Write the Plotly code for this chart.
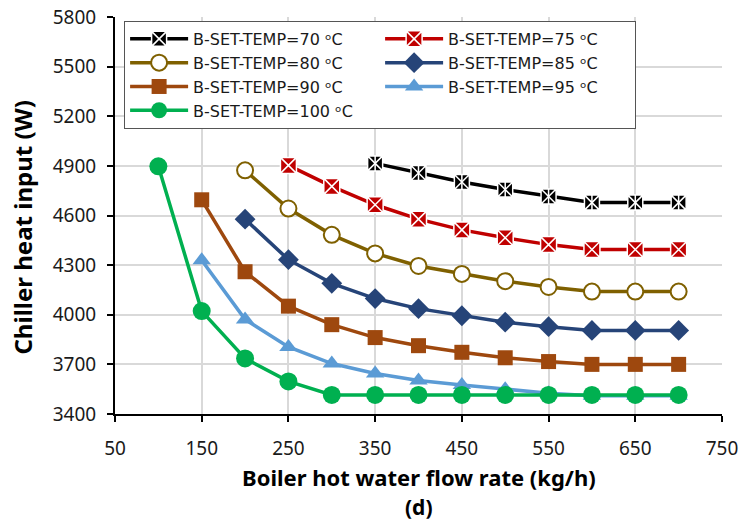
import plotly.graph_objects as go

x70 = [350, 400, 450, 500, 550, 600, 650, 700]
y70 = [4915, 4857, 4803, 4757, 4715, 4678, 4678, 4678]

x75 = [250, 300, 350, 400, 450, 500, 550, 600, 650, 700]
y75 = [4903, 4776, 4665, 4578, 4513, 4465, 4424, 4394, 4394, 4394]

x80 = [200, 250, 300, 350, 400, 450, 500, 550, 600, 650, 700]
y80 = [4873, 4642, 4483, 4371, 4295, 4247, 4203, 4168, 4140, 4140, 4140]

x85 = [200, 250, 300, 350, 400, 450, 500, 550, 600, 650, 700]
y85 = [4578, 4333, 4190, 4098, 4037, 3994, 3955, 3928, 3905, 3905, 3905]

x90 = [150, 200, 250, 300, 350, 400, 450, 500, 550, 600, 650, 700]
y90 = [4695, 4260, 4052, 3940, 3862, 3813, 3773, 3740, 3717, 3700, 3700, 3700]

x95 = [150, 200, 250, 300, 350, 400, 450, 500, 550, 600, 650, 700]
y95 = [4330, 3972, 3805, 3705, 3645, 3603, 3576, 3550, 3525, 3510, 3510, 3510]

x100 = [100, 150, 200, 250, 300, 350, 400, 450, 500, 550, 600, 650, 700]
y100 = [4897, 4022, 3736, 3597, 3515, 3515, 3515, 3515, 3515, 3515, 3515, 3515, 3515]

names = ["B-SET-TEMP=70 ᵒC", "B-SET-TEMP=75 ᵒC",
         "B-SET-TEMP=80 ᵒC", "B-SET-TEMP=85 ᵒC",
         "B-SET-TEMP=90 ᵒC", "B-SET-TEMP=95 ᵒC",
         "B-SET-TEMP=100 ᵒC"]

x_ticks = [50, 150, 250, 350, 450, 550, 650, 750]
y_ticks = [3400, 3700, 4000, 4300, 4600, 4900, 5200, 5500, 5800]

x_title = "Boiler hot water flow rate (kg/h)"
y_title = "Chiller heat input (W)"
panel_label = "(d)"

FONT = "Noto Sans"
LEGEND_FONT = "DejaVu Sans"

fig = go.Figure()

def add(xs, ys, name, color, symbol, size, mcolor, lcolor, lw):
    fig.add_trace(go.Scatter(
        x=xs, y=ys, name=name, mode="lines+markers",
        line=dict(color=color, width=3.5),
        marker=dict(symbol=symbol, size=size, color=mcolor,
                    line=dict(color=lcolor, width=lw)),
    ))

add(x70, y70, names[0], "#000000", "square-x", 15, "#000000", "#FFFFFF", 1.5)
add(x75, y75, names[1], "#C00000", "square-x", 16, "#C00000", "#FFFFFF", 1.5)
add(x80, y80, names[2], "#7F6000", "circle", 16, "#FFFFFF", "#7F6000", 2)
add(x85, y85, names[3], "#264478", "diamond", 16, "#264478", "#264478", 0)
add(x90, y90, names[4], "#9E480E", "square", 15, "#9E480E", "#9E480E", 0)
add(x95, y95, names[5], "#5B9BD5", "triangle-up", 16, "#5B9BD5", "#5B9BD5", 0)
add(x100, y100, names[6], "#00B050", "circle", 18, "#00B050", "#00B050", 0)

# vertical white stroke to complete the asterisk look of the 70 °C markers
fig.add_trace(go.Scatter(
    x=x70, y=y70, mode="markers", showlegend=False, hoverinfo="skip",
    marker=dict(symbol="line-ns", size=11, color="#FFFFFF",
                line=dict(color="#FFFFFF", width=1.5)),
))

tickfont = dict(family=FONT, size=19, color="#1a1a1a")

fig.update_layout(
    width=745, height=522,
    margin=dict(l=115, r=23, t=17, b=108),
    paper_bgcolor="white", plot_bgcolor="white",
    font=dict(family=FONT, size=16, color="#1a1a1a"),
    showlegend=True,
    legend=dict(
        x=0.015, y=0.99, xanchor="left", yanchor="top",
        orientation="h", entrywidth=182, entrywidthmode="pixels",
        bordercolor="#555555", borderwidth=1, bgcolor="white",
        font=dict(family=LEGEND_FONT, size=16, color="#1a1a1a"),
        tracegroupgap=0, itemwidth=58,
    ),
    xaxis=dict(
        range=[50, 750], tickmode="array", tickvals=x_ticks,
        ticktext=[str(v) for v in x_ticks],
        showgrid=True, gridcolor="#D9D9D9", gridwidth=1.5,
        showline=True, linecolor="#000000", linewidth=2,
        ticks="outside", ticklen=6, tickcolor="#000000", tickwidth=1.5,
        zeroline=False, automargin=False, ticklabelstandoff=10,
        tickfont=tickfont,
    ),
    yaxis=dict(
        range=[3400, 5800], tickmode="array", tickvals=y_ticks,
        ticktext=[str(v) for v in y_ticks],
        showgrid=True, gridcolor="#D9D9D9", gridwidth=1.5,
        showline=True, linecolor="#000000", linewidth=2,
        ticks="outside", ticklen=6, tickcolor="#000000", tickwidth=1.5,
        zeroline=False, automargin=False, ticklabelstandoff=7,
        tickfont=tickfont,
    ),
    annotations=[
        dict(text="<b>" + x_title + "</b>", xref="paper", yref="paper",
             x=0.5, y=-0.159, xanchor="center", yanchor="middle",
             showarrow=False, font=dict(family=FONT, size=22, color="#000000")),
        dict(text="<b>" + panel_label + "</b>", xref="paper", yref="paper",
             x=0.5, y=-0.235, xanchor="center", yanchor="middle",
             showarrow=False, font=dict(family=FONT, size=21, color="#000000")),
        dict(text="<b>" + y_title + "</b>", xref="paper", yref="paper",
             x=-0.153, y=0.47, xanchor="center", yanchor="middle",
             textangle=-90, showarrow=False,
             font=dict(family=FONT, size=24, color="#000000")),
    ],
)

fig.write_html("out.html", config={"displayModeBar": False},
               post_script="document.body.style.margin='0';")
